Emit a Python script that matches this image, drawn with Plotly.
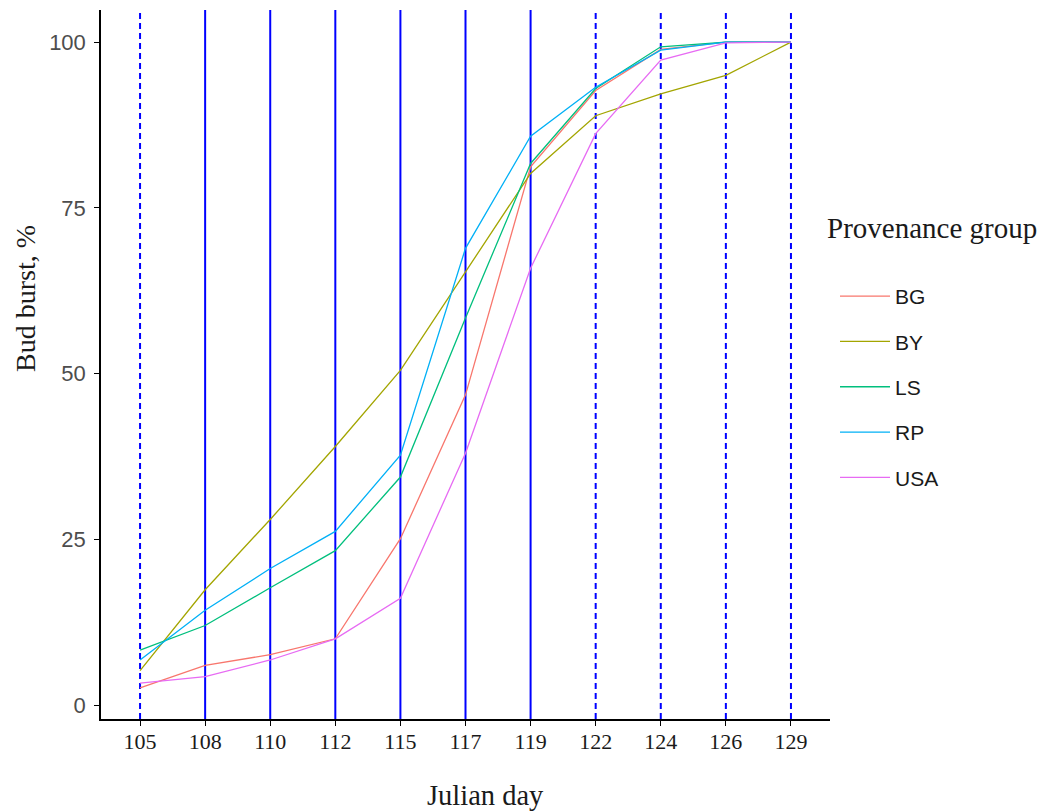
import plotly.graph_objects as go

# Julian days of observation and bud-burst percentages per provenance group
days = [105, 108, 110, 112, 115, 117, 119, 122, 124, 126, 129]
bg = [2.6, 6.0, 7.6, 10.0, 25.1, 46.8, 81.2, 92.7, 98.9, 100, 100]
by = [5.2, 17.4, 28.0, 39.0, 50.5, 65.3, 80.2, 88.9, 92.2, 95.0, 100]
ls = [8.3, 12.0, 17.7, 23.3, 34.4, 58.4, 81.7, 93.0, 99.3, 100, 100]
rp = [6.8, 14.3, 20.6, 26.2, 37.7, 68.9, 85.8, 93.2, 98.8, 100, 100]
usa = [3.3, 4.3, 6.8, 10.0, 16.1, 38.0, 65.9, 86.2, 97.3, 99.9, 100]

groups = ["BG", "BY", "LS", "RP", "USA"]
series = [bg, by, ls, rp, usa]
colors = ["#F8766D", "#A3A500", "#00BF7D", "#00B0F6", "#E76BF3"]

# days marked with a solid reference line; the rest get dashed lines
solid_days = [108, 110, 112, 115, 117, 119]
y_ticks = [0, 25, 50, 75, 100]

labels = [str(d) for d in days]

fig = go.Figure()

for i, d in enumerate(days):
    fig.add_vline(
        x=i,
        line=dict(color="#0000FF", width=2,
                  dash="solid" if d in solid_days else "6px,4px"),
        layer="below",
    )

for name, vals, col in zip(groups, series, colors):
    fig.add_trace(go.Scatter(
        x=labels, y=vals, mode="lines", name=name,
        legendgroup=name,
        line=dict(color=col, width=1.3),
    ))

serif = "Liberation Serif, Times New Roman, serif"
sans = "Liberation Sans, Arial, sans-serif"
ink = "#1a1a1a"

L, R, T, B = 101, 216, 10, 92
plot_h = 811 - T - B

fig.update_layout(
    width=1046, height=811,
    margin=dict(l=L, r=R, t=T, b=B, autoexpand=False),
    plot_bgcolor="white", paper_bgcolor="white",
    showlegend=True,
    legend=dict(
        xref="container", yref="container",
        x=835 / 1046, xanchor="left",
        y=1 - 276 / 811, yanchor="top",
        font=dict(family=sans, size=21, color=ink),
        tracegroupgap=15,
        itemwidth=50,
        traceorder="grouped",
        bgcolor="rgba(0,0,0,0)",
    ),
    xaxis=dict(
        type="category",
        range=[-0.6, 10.6],
        showgrid=False, zeroline=False,
        showline=True, linecolor="black", linewidth=1.5,
        ticks="outside", ticklen=5, tickcolor="black", tickwidth=1.3,
        tickfont=dict(family=serif, size=22, color=ink),
        ticklabelstandoff=-3,
    ),
    yaxis=dict(
        range=[-2.1, 104.85],
        tickvals=y_ticks,
        showgrid=False, zeroline=False,
        showline=True, linecolor="black", linewidth=1.5,
        ticks="outside", ticklen=5, tickcolor="black", tickwidth=1.3,
        tickfont=dict(family=sans, size=22, color="#4D4D4D"),
        ticklabelstandoff=4,
    ),
    annotations=[
        dict(text="Provenance group", xref="paper", yref="paper",
             x=(828 - L) / 729 - 0.004, y=(811 - B - 228) / plot_h,
             xanchor="left", yanchor="middle",
             showarrow=False, font=dict(family=serif, size=29, color=ink)),
        dict(text="Julian day", xref="paper", yref="paper",
             x=(485 - L) / 729, y=(811 - B - 795) / plot_h,
             xanchor="center", yanchor="middle",
             showarrow=False, font=dict(family=serif, size=28.5, color=ink)),
        dict(text="Bud burst, %", xref="paper", yref="paper",
             x=(25 - L) / 729, y=(811 - B - 299) / plot_h,
             xanchor="center", yanchor="middle",
             textangle=-90,
             showarrow=False, font=dict(family=serif, size=28, color=ink)),
    ],
)

fig.write_html("out.html")
